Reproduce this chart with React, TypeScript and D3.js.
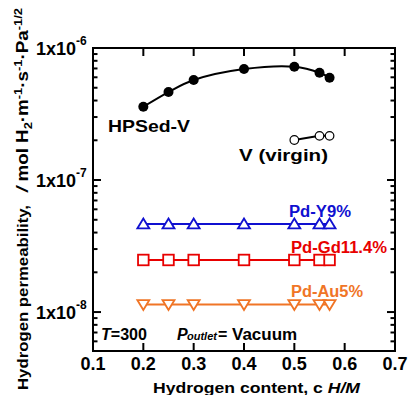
import * as d3 from 'd3';

// hydrogen content, c H/M
const content = [0.2, 0.25, 0.3, 0.4, 0.5, 0.55, 0.57];
const hpsedV = [3.59e-7, 4.64e-7, 5.72e-7, 6.93e-7, 7.22e-7, 6.5e-7, 5.96e-7];
const virginContent = [0.5, 0.55, 0.57];
const virgin = [2.01e-7, 2.16e-7, 2.16e-7];
const pdY9 = [4.65e-8, 4.65e-8, 4.65e-8, 4.65e-8, 4.65e-8, 4.65e-8, 4.65e-8];
const pdGd114 = [2.48e-8, 2.48e-8, 2.48e-8, 2.48e-8, 2.48e-8, 2.48e-8, 2.48e-8];
const pdAu5 = [1.14e-8, 1.14e-8, 1.14e-8, 1.14e-8, 1.14e-8, 1.14e-8, 1.14e-8];
const xTicks = [0.1, 0.2, 0.3, 0.4, 0.5, 0.6, 0.7];
const yMajor = [1e-6, 1e-7, 1e-8];
const yExp = ['-6', '-7', '-8'];

const W = 408, H = 395;
const left = 93, right = 395, top = 48, bottom = 351;
const FONT = "'Liberation Sans', Arial, sans-serif";
const BLUE = '#1010d0', RED = '#e80000', ORANGE = '#f07526';

const x = d3.scaleLinear().domain([0.1, 0.7]).range([left, right]);
const y = d3.scaleLog().domain([5.07e-9, 1e-6]).range([bottom, top]);

// minor ticks 2..9 within each decade
const yMinor: number[] = [];
[1e-9, 1e-8, 1e-7].forEach((dec) => {
  for (let k = 2; k <= 9; k++) {
    const v = k * dec;
    if (v >= 5.07e-9 && v < 1e-6) yMinor.push(v);
  }
});

const smooth = d3.line<[number, number]>().curve(d3.curveCatmullRom.alpha(0.5));
const straight = d3.line<[number, number]>();

function pts(xs: number[], ys: number[]): [number, number][] {
  return xs.map((v, i) => [x(v), y(ys[i])]);
}

function Marker({ kind, cx, cy, color }: { kind: string; cx: number; cy: number; color: string }) {
  if (kind === 'up')
    return <path d={`M${cx - 6},${cy + 4.5}L${cx + 6},${cy + 4.5}L${cx},${cy - 5.5}Z`} fill="#fff" stroke={color} strokeWidth={1.8} />;
  if (kind === 'down')
    return <path d={`M${cx - 6},${cy - 4.5}L${cx + 6},${cy - 4.5}L${cx},${cy + 5.5}Z`} fill="#fff" stroke={color} strokeWidth={1.8} />;
  return <rect x={cx - 5.3} y={cy - 5.3} width={10.6} height={10.6} fill="#fff" stroke={color} strokeWidth={1.8} />;
}

const flatSeries = [
  { values: pdY9, kind: 'up', color: BLUE },
  { values: pdGd114, kind: 'sq', color: RED },
  { values: pdAu5, kind: 'down', color: ORANGE },
];

export default function App() {
  return (
    <svg width={W} height={H} style={{ position: 'absolute', left: 0, top: 0, background: '#fff' }} fontFamily={FONT}>
      {/* frame */}
      <rect x={left} y={top} width={right - left} height={bottom - top} fill="none" stroke="#000" strokeWidth={2} />
      {/* x ticks, top and bottom, inward */}
      {xTicks.slice(1, -1).map((t) => (
        <g key={t}>
          <line x1={x(t)} x2={x(t)} y1={bottom} y2={bottom - 8} stroke="#000" strokeWidth={2} />
          <line x1={x(t)} x2={x(t)} y1={top} y2={top + 8} stroke="#000" strokeWidth={2} />
        </g>
      ))}
      {xTicks.map((t) => (
        <text key={t} x={x(t)} y={370} textAnchor="middle" fontSize={18} fontWeight="bold">
          {t.toFixed(1)}
        </text>
      ))}
      {/* y ticks */}
      {yMajor.slice(1).map((t) => (
        <g key={t}>
          <line x1={left} x2={left + 8} y1={y(t)} y2={y(t)} stroke="#000" strokeWidth={2} />
          <line x1={right} x2={right - 8} y1={y(t)} y2={y(t)} stroke="#000" strokeWidth={2} />
        </g>
      ))}
      {yMinor.map((t) => (
        <g key={t}>
          <line x1={left} x2={left + 4.5} y1={y(t)} y2={y(t)} stroke="#000" strokeWidth={2} />
          <line x1={right} x2={right - 4.5} y1={y(t)} y2={y(t)} stroke="#000" strokeWidth={2} />
        </g>
      ))}
      {yMajor.map((t, i) => (
        <text key={t} x={76} y={y(t) + 6.5} textAnchor="end" fontSize={18} fontWeight="bold">
          1x10
          <tspan x={76} dy={-10} textAnchor="start" fontSize={12}>{yExp[i]}</tspan>
        </text>
      ))}

      {/* HPSed-V */}
      <path d={smooth(pts(content, hpsedV)) || ''} fill="none" stroke="#000" strokeWidth={2} />
      {content.map((c, i) => (
        <circle key={c} cx={x(c)} cy={y(hpsedV[i])} r={5} fill="#000" />
      ))}
      {/* virgin V */}
      <path d={straight(pts(virginContent, virgin)) || ''} fill="none" stroke="#000" strokeWidth={2} />
      {virginContent.map((c, i) => (
        <circle key={c} cx={x(c)} cy={y(virgin[i])} r={4.3} fill="#fff" stroke="#000" strokeWidth={1.2} />
      ))}

      {/* Pd alloys */}
      {flatSeries.map((s) => (
        <g key={s.kind}>
          <path d={straight(pts(content, s.values)) || ''} fill="none" stroke={s.color} strokeWidth={2} />
          {content.map((c, i) => (
            <Marker key={c} kind={s.kind} cx={x(c)} cy={y(s.values[i])} color={s.color} />
          ))}
        </g>
      ))}

      {/* annotations */}
      <text x={108} y={131.5} fontSize={17} fontWeight="bold" textLength={82} lengthAdjust="spacingAndGlyphs">HPSed-V</text>
      <text x={239} y={161} fontSize={17} fontWeight="bold" textLength={89} lengthAdjust="spacingAndGlyphs">V (virgin)</text>
      <text x={289} y={216.5} fontSize={16} fontWeight="bold" fill={BLUE} textLength={62} lengthAdjust="spacingAndGlyphs">Pd-Y9%</text>
      <text x={291} y={253} fontSize={16} fontWeight="bold" fill={RED} textLength={96} lengthAdjust="spacingAndGlyphs">Pd-Gd11.4%</text>
      <text x={291} y={297} fontSize={16} fontWeight="bold" fill={ORANGE} textLength={72} lengthAdjust="spacingAndGlyphs">Pd-Au5%</text>

      <text x={101} y={339.5} fontSize={16} fontWeight="bold" textLength={46} lengthAdjust="spacingAndGlyphs">
        <tspan fontStyle="italic">T</tspan>=300
      </text>
      <text y={339.5} fontWeight="bold">
        <tspan x={177} fontSize={16} fontStyle="italic">P</tspan>
        <tspan x={187} fontSize={11} fontStyle="italic">outlet</tspan>
        <tspan x={218} fontSize={16}>=</tspan>
        <tspan x={232} fontSize={17}>Vacuum</tspan>
      </text>

      {/* axis titles */}
      <text x={153} y={393} fontSize={15} fontWeight="bold" textLength={207} lengthAdjust="spacingAndGlyphs">
        Hydrogen content, c <tspan fontStyle="italic">H/M</tspan>
      </text>
      <g transform="translate(28,0) rotate(-90)">
        <text x={-390} y={0} fontSize={15} fontWeight="bold" textLength={185} lengthAdjust="spacingAndGlyphs">
          Hydrogen permeability,
        </text>
        <text x={-192} y={0} fontSize={16} fontWeight="bold" textLength={184} lengthAdjust="spacingAndGlyphs">
          <tspan fontStyle="italic">/</tspan> mol H<tspan fontSize={11} dy={4}>2</tspan>
          <tspan dy={-4}>·m</tspan><tspan fontSize={11} dy={-6}>-1</tspan>
          <tspan dy={6}>·s</tspan><tspan fontSize={11} dy={-6}>-1</tspan>
          <tspan dy={6}>·Pa</tspan><tspan fontSize={11} dy={-6}>-1/2</tspan>
        </text>
      </g>
    </svg>
  );
}
